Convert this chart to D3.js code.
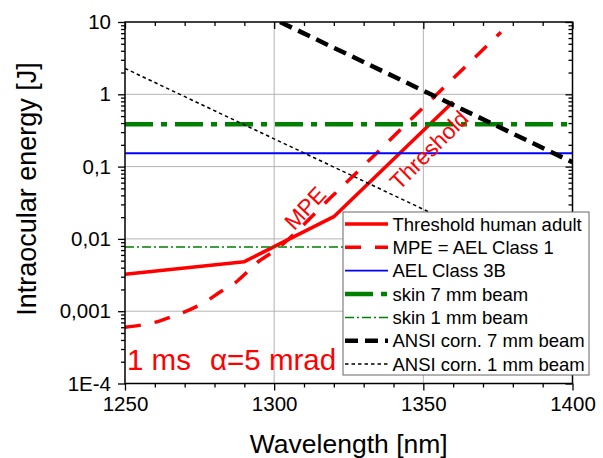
<!DOCTYPE html>
<html><head><meta charset="utf-8">
<script src="https://cdn.jsdelivr.net/npm/d3@7"></script>
<style>
html,body{margin:0;padding:0;background:#fff;}
svg{display:block;font-family:"Liberation Sans",Arial,sans-serif;}
</style></head>
<body>
<svg id="chart" width="603" height="458"></svg>
<script>
// ---- data ----
const xTickValues = [1250, 1300, 1350, 1400];
const xTickLabels = ["1250", "1300", "1350", "1400"];
const yTickValues = [1e-4, 1e-3, 1e-2, 0.1, 1, 10];
const yTickLabels = ["1E-4", "0,001", "0,01", "0,1", "1", "10"];

const thresholdAdult = [[1250, 0.00324], [1290, 0.00484], [1320, 0.0203], [1360, 0.79]];
const mpeClass1 = [[1250, 0.0006], [1262, 0.00074], [1267, 0.00088], [1272, 0.00106], [1277, 0.00135],
                   [1282, 0.00186], [1287, 0.00248], [1291, 0.0035], [1294, 0.0046], [1300, 0.0068],
                   [1320, 0.041], [1350, 0.66], [1376, 7.2]];
const aelClass3B = [[1250, 0.153], [1400, 0.153]];
const skin7mm = [[1250, 0.385], [1400, 0.385]];
const skin1mm = [[1250, 0.0077], [1400, 0.0077]];
const ansi7mm = [[1302, 10], [1400, 0.115]];
const ansi1mm = [[1250, 2.28], [1355, 0.0205]];

const legendLabels = ["Threshold human adult", "MPE = AEL Class 1", "AEL Class 3B",
  "skin 7 mm beam", "skin 1 mm beam", "ANSI corn. 7 mm beam", "ANSI corn. 1 mm beam"];

// ---- layout ----
const svg = d3.select("#chart");
const L = 125, R = 572.5, T = 22, B = 383.5;
const x = d3.scaleLinear().domain([1250, 1400]).range([L, R]);
const y = d3.scaleLog().domain([1e-4, 10]).range([B, T]);

const series = [
  {data: thresholdAdult, color: "#ff0000", width: 3.5, dash: null, curve: d3.curveLinear},
  {data: mpeClass1, color: "#ff0000", width: 3.5, dash: "16,14", curve: d3.curveMonotoneX},
  {data: aelClass3B, color: "#0000ff", width: 1.8, dash: null, curve: d3.curveLinear},
  {data: skin7mm, color: "#008000", width: 4.5, dash: "28,8,6,8", curve: d3.curveLinear},
  {data: skin1mm, color: "#008000", width: 1.5, dash: "9,3,2,3", curve: d3.curveLinear},
  {data: ansi7mm, color: "#000000", width: 4.5, dash: "13,7", curve: d3.curveLinear},
  {data: ansi1mm, color: "#000000", width: 1.5, dash: "3.5,3", curve: d3.curveLinear}
];

// clip
svg.append("defs").append("clipPath").attr("id", "plotclip")
  .append("rect").attr("x", L).attr("y", T).attr("width", R - L).attr("height", B - T);

// grid
const grid = svg.append("g").attr("stroke", "#b4b4b4").attr("stroke-width", 1);
[1300, 1350].forEach(v => grid.append("line").attr("x1", x(v)).attr("x2", x(v)).attr("y1", T).attr("y2", B));
[1e-3, 1e-2, 0.1, 1].forEach(v => grid.append("line").attr("x1", L).attr("x2", R).attr("y1", y(v)).attr("y2", y(v)));

// minor tick values
const xMinor = d3.range(1250, 1401, 10).filter(v => !xTickValues.includes(v));
const yMinor = [];
for (let e = -4; e < 1; e++) for (let m = 2; m <= 9; m++) yMinor.push(m * Math.pow(10, e));

function styleAxis(g) {
  g.select(".domain").remove();
  g.selectAll(".tick line").attr("stroke", "#000").attr("stroke-width", 1.3);
  g.selectAll("text").attr("font-size", "20.5px").attr("fill", "#000")
    .attr("font-family", '"Liberation Sans",Arial,sans-serif');
}

// bottom axis
svg.append("g").attr("transform", `translate(0,${B})`)
  .call(d3.axisBottom(x).tickValues(xTickValues).tickFormat((d, i) => xTickLabels[i]).tickSize(7).tickPadding(6).tickSizeOuter(0))
  .call(styleAxis);
svg.append("g").attr("transform", `translate(0,${B})`)
  .call(d3.axisBottom(x).tickValues(xMinor).tickFormat("").tickSize(4).tickSizeOuter(0)).call(styleAxis);
// top axis (inward)
svg.append("g").attr("transform", `translate(0,${T})`)
  .call(d3.axisTop(x).tickValues(xTickValues).tickFormat("").tickSize(-7).tickSizeOuter(0)).call(styleAxis);
svg.append("g").attr("transform", `translate(0,${T})`)
  .call(d3.axisTop(x).tickValues(xMinor).tickFormat("").tickSize(-4).tickSizeOuter(0)).call(styleAxis);
// left axis
svg.append("g").attr("transform", `translate(${L},0)`)
  .call(d3.axisLeft(y).tickValues(yTickValues).tickFormat((d, i) => yTickLabels[i]).tickSize(7).tickPadding(7).tickSizeOuter(0))
  .call(styleAxis);
svg.append("g").attr("transform", `translate(${L},0)`)
  .call(d3.axisLeft(y).tickValues(yMinor).tickFormat("").tickSize(4).tickSizeOuter(0)).call(styleAxis);
// right axis (inward)
svg.append("g").attr("transform", `translate(${R},0)`)
  .call(d3.axisRight(y).tickValues(yTickValues).tickFormat("").tickSize(-7).tickSizeOuter(0)).call(styleAxis);
svg.append("g").attr("transform", `translate(${R},0)`)
  .call(d3.axisRight(y).tickValues(yMinor).tickFormat("").tickSize(-4).tickSizeOuter(0)).call(styleAxis);

// data lines
const plot = svg.append("g").attr("clip-path", "url(#plotclip)");
series.forEach(s => {
  const line = d3.line().x(d => x(d[0])).y(d => y(d[1])).curve(s.curve);
  plot.append("path").datum(s.data).attr("d", line)
    .attr("fill", "none").attr("stroke", s.color).attr("stroke-width", s.width)
    .attr("stroke-dasharray", s.dash).attr("stroke-linejoin", "round");
});

// frame
svg.append("rect").attr("x", L).attr("y", T).attr("width", R - L).attr("height", B - T)
  .attr("fill", "none").attr("stroke", "#000").attr("stroke-width", 1.5);

// annotations
svg.append("text").attr("x", 127).attr("y", 370).attr("fill", "#ff0000").attr("font-size", "29.5px").text("1 ms");
svg.append("text").attr("x", 210).attr("y", 370).attr("fill", "#ff0000").attr("font-size", "29.5px").text("α=5 mrad");
svg.append("text").attr("transform", "translate(305,208) rotate(-47)")
  .attr("text-anchor", "middle").attr("dy", "0.35em").attr("fill", "#ff0000").attr("font-size", "22.5px").text("MPE");
svg.append("text").attr("transform", "translate(429,150) rotate(-45)")
  .attr("text-anchor", "middle").attr("dy", "0.35em").attr("fill", "#ff0000").attr("font-size", "22.5px").text("Threshold");

// axis titles
svg.append("text").attr("x", (L + R) / 2).attr("y", 453).attr("text-anchor", "middle")
  .attr("font-size", "26.5px").attr("fill", "#000").text("Wavelength [nm]");
svg.append("text").attr("transform", "translate(36,189) rotate(-90)").attr("text-anchor", "middle")
  .attr("font-size", "27px").attr("fill", "#000").text("Intraocular energy [J]");

// legend
const lg = svg.append("g");
const LX = 343, LY = 212, LW = 246, LH = 163, rowH = 23.35, row0 = 224;
lg.append("rect").attr("x", LX).attr("y", LY).attr("width", LW).attr("height", LH)
  .attr("fill", "#fff").attr("stroke", "#666").attr("stroke-width", 1);
legendLabels.forEach((lab, i) => {
  const s = series[i];
  const yy = row0 + i * rowH;
  lg.append("line").attr("x1", 345).attr("x2", 388).attr("y1", yy).attr("y2", yy)
    .attr("stroke", s.color).attr("stroke-width", s.width).attr("stroke-dasharray", s.dash);
  lg.append("text").attr("x", 392.5).attr("y", yy + 6.5).attr("font-size", "18.5px")
    .attr("fill", "#000").text(lab);
});
</script>
</body></html>
